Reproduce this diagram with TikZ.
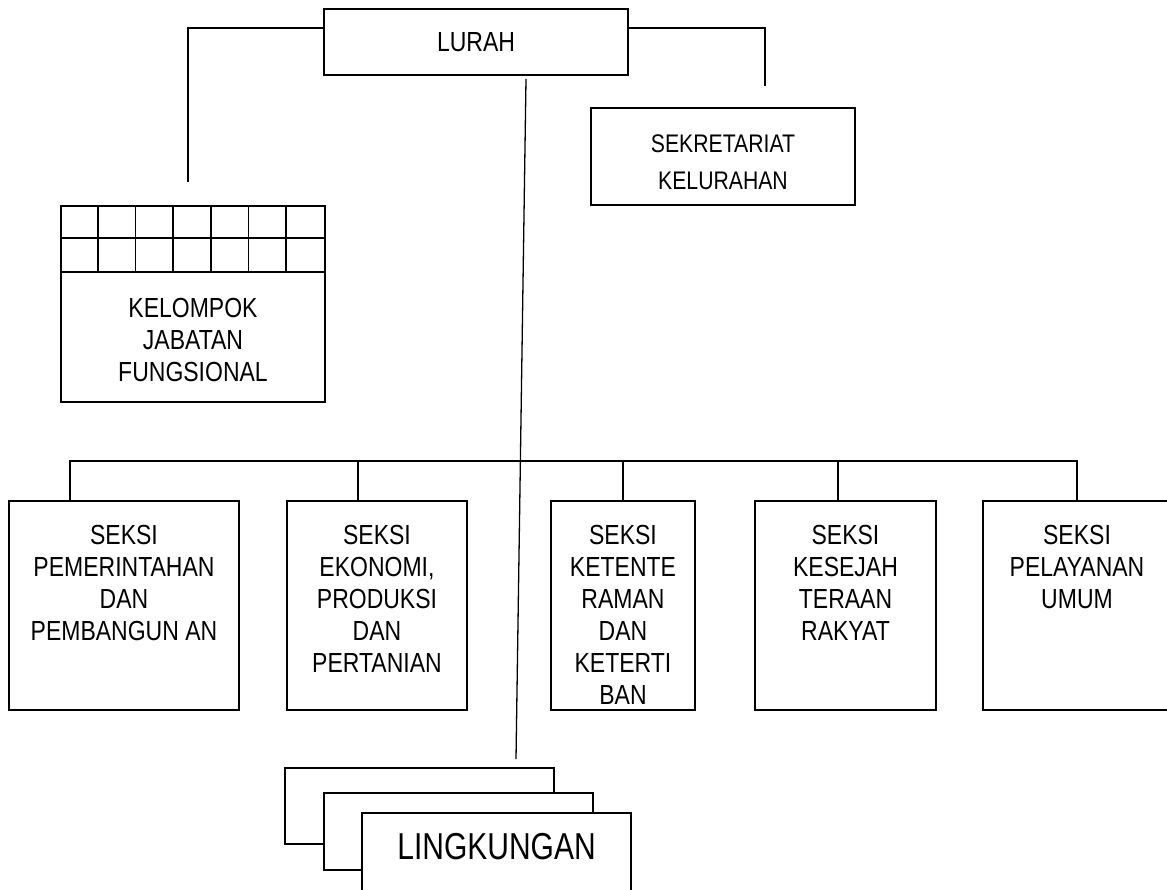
\documentclass[tikz,border=0pt]{standalone}
\usepackage{fontspec}
\setmainfont{Liberation Sans}
\usepackage{tikz}
\usetikzlibrary{positioning}
\tikzstyle{unit} = [rectangle,
inner sep=0pt,
text centered,
draw=black,
line width=1pt,
fill=white]
\tikzstyle{seksi} = [unit, minimum height=104.5pt]
\tikzstyle{isi} = [inner sep=0pt]
\tikzstyle{conn} = [line width=0.65pt]
% tall lettering, lines stacked
\newcommand{\tinggi}[1]{\scalebox{1}[1.2]{\begin{tabular}{@{}c@{}}#1\end{tabular}}}

\begin{document}
\begin{tikzpicture}[x=0.5pt, y=-0.5pt, font=\fontsize{11.5}{13.33}\selectfont]
				\useasboundingbox (0,0) rectangle (1167,889);

				\node[unit, minimum width=152pt, minimum height=33pt] (lurah) at (476,42) {\scalebox{1}[1.2]{LURAH}};
				\node[unit, minimum width=132pt, minimum height=48.5pt] (s-k) at (723,156.5) {};
				\node[isi, font=\fontsize{10.6}{15.4}\selectfont] (t-s-k) at (723,163.2) {\tinggi{SEKRETARIAT\\KELURAHAN}};
				\node[unit, minimum width=132pt, minimum height=98pt] (k-j-f) at (193,304) {};
				\node[isi] (t-k-j-f) at (193,343.5) {\tinggi{KELOMPOK\\JABATAN\\FUNGSIONAL}};

				\draw[line width=0.9pt] ([yshift=-16.5pt]k-j-f.north west) -- ([yshift=-16.5pt]k-j-f.north east);
				\draw[line width=0.9pt] ([yshift=-33.5pt]k-j-f.north west) -- ([yshift=-33.5pt]k-j-f.north east);
				\foreach \i in {1,...,6}
					\draw[line width=0.9pt] ([xshift=\i*18.857pt]k-j-f.north west) -- ++(0,-33.5pt);

				\node[seksi, minimum width=115pt] (s-p-p) at (124,605.5) {};
				\node[seksi, minimum width=90pt] (s-e-p) at (377,605.5) {};
				\node[seksi, minimum width=72pt] (s-k-k) at (623,605.5) {};
				\node[seksi, minimum width=90.5pt] (s-k-r) at (845.5,605.5) {};
				\node[seksi, minimum width=94pt] (s-p-u) at (1077,605.5) {};

				\node[isi, below=10.7pt of s-p-p.north] (t-p-p) {\tinggi{SEKSI\\PEMERINTAHAN\\DAN\\PEMBANGUN AN}};
				\node[isi, below=10.7pt of s-e-p.north] (t-e-p) {\tinggi{SEKSI\\EKONOMI,\\PRODUKSI\\DAN\\PERTANIAN}};
				\node[isi, below=10.7pt of s-k-k.north] (t-k-k) {\tinggi{SEKSI\\KETENTE\\RAMAN\\DAN\\KETERTI\\BAN}};
				\node[isi, below=10.7pt of s-k-r.north] (t-k-r) {\tinggi{SEKSI\\KESEJAH\\TERAAN\\RAKYAT}};
				\node[isi, below=10.7pt of s-p-u.north] (t-p-u) {\tinggi{SEKSI\\PELAYANAN\\UMUM}};

				\node[unit, minimum width=134.5pt, minimum height=38pt] (l-1) at (419.5,806) {};
				\node[unit, minimum width=134.5pt, minimum height=38.5pt] (l-2) at (458.5,831.5) {};
				\node[unit, minimum width=134.5pt, minimum height=39pt, text depth=5.5pt, font=\fontsize{15}{18}\selectfont] (l-3) at (496.5,851.5) {\scalebox{1}[1.25]{LINGKUNGAN}};

				\draw[conn] ([yshift=7pt]lurah.west) -| ([xshift=-2.5pt,yshift=11.5pt]k-j-f.north);
				\draw[conn] ([yshift=7pt]lurah.east) -| ([xshift=21pt,yshift=10.5pt]s-k.north);
				\draw[conn] ([xshift=25pt,yshift=-1.5pt]lurah.south) -- ([xshift=48.25pt,yshift=4pt]l-1.north);

				\draw[conn] ([xshift=-27pt]s-p-p.north) -- ++(0,19.5pt) -| (s-p-u.north);
				\draw[conn] ([xshift=-9.5pt]s-e-p.north) -- ++(0,19.5pt);
				\draw[conn] (s-k-k.north) -- ++(0,19.5pt);
				\draw[conn] ([xshift=-3.75pt]s-k-r.north) -- ++(0,19.5pt);
			\end{tikzpicture}
\end{document}
